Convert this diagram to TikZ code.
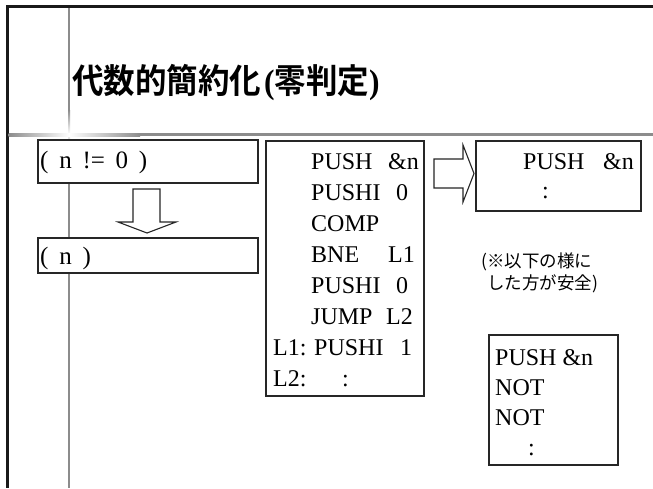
\documentclass[tikz,border=0pt]{standalone}
\usepackage{fontspec}
\setmainfont{Liberation Serif}
\newfontfamily\cjkb{Noto Sans CJK JP Bold}
\newfontfamily\cjk{Noto Sans CJK JP}
\begin{document}
\begin{tikzpicture}[x=1pt,y=-1pt,
  box/.style={draw=black!85, line width=1.3pt, inner sep=0pt, fill=white},
  txt/.style={anchor=base west, inner sep=0pt, font=\fontsize{24}{29}\selectfont},
  ltxt/.style={anchor=base west, inner sep=0pt, font=\fontsize{25}{30}\selectfont},
  note/.style={anchor=base west, inner sep=0pt, font=\cjk\fontsize{17.5}{21}\selectfont},
  blockarrow/.style={draw=black!85, line width=1.1pt, fill=white, line join=miter}]
\useasboundingbox (0,0) rectangle (653,488);
\fill[white] (0,0) rectangle (653,488);
% frame
\fill[black!90] (6,5) rectangle (653,7.5);
\fill[black!90] (6,5) rectangle (8.5,488);
% gray lines
\fill[gray!90] (68,7.5) rectangle (70.2,110);
\shade[top color=gray!90, bottom color=white] (68,110) rectangle (70.2,134);
\shade[top color=white, bottom color=gray!90] (68,134) rectangle (70.2,150);
\fill[gray!90] (68,150) rectangle (70.2,488);
\shade[left color=gray!90, right color=white] (8.5,133) rectangle (69,136);
\shade[left color=white, right color=gray!90] (69,133) rectangle (140,136);
\fill[gray!90] (140,133) rectangle (653,136);
% title
\node[anchor=base west, inner sep=0pt, yscale=1.08, transform shape] (title) at (72,93)
  {\cjkb\fontsize{31.5}{38}\selectfont 代数的簡約化\hspace{3pt}{\rmfamily\bfseries(}零判定{\rmfamily\bfseries)}};
% left boxes
\node[box, minimum width=220pt, minimum height=43pt] (b1) at (148,161.5) {};
\node[box, minimum width=220pt, minimum height=35pt] (b2) at (148,255.5) {};
\node[ltxt] (t1) at (40,168) {\spaceskip=0.43em ( n != 0 )};
\node[ltxt] (t2) at (40,264) {\spaceskip=0.43em ( n )};
% down arrow
\draw[blockarrow] (133,189) -- (160,189) -- (160,222) -- (176,222) -- (147,233)
  -- (118,222) -- (133,222) -- cycle;
% middle box
\node[box, minimum width=158pt, minimum height=255pt] (mid) at (345,268.5) {};
\node[txt] (m0a) at (311,169) {PUSH};   \node[txt] (m0b) at (388,169) {\&n};
\node[txt] (m1a) at (311,200.1) {PUSHI}; \node[txt] (m1b) at (396,200.1) {0};
\node[txt] (m2a) at (311,231.2) {COMP};
\node[txt] (m3a) at (311,262.3) {BNE};  \node[txt] (m3b) at (388,262.3) {L1};
\node[txt] (m4a) at (311,293.4) {PUSHI}; \node[txt] (m4b) at (396,293.4) {0};
\node[txt] (m5a) at (311,324.5) {JUMP}; \node[txt] (m5b) at (386,324.5) {L2};
\node[txt] (m6l) at (273,355.6) {L1:}; \node[txt] (m6a) at (314,355.6) {PUSHI}; \node[txt] (m6b) at (400,355.6) {1};
\node[txt] (m7l) at (273,386.7) {L2:}; \node[txt] (m7a) at (342,386.7) {:};
% right arrow
\draw[blockarrow] (434,159) -- (463,159) -- (463,145) -- (474,173.5) -- (463,202)
  -- (463,188) -- (434,188) -- cycle;
% top right box
\node[box, minimum width=165pt, minimum height=70pt] (tr) at (558.5,176) {};
\node[txt] (r0a) at (523,169) {PUSH}; \node[txt] (r0b) at (603,169) {\&n};
\node[txt] (r1a) at (542,198) {:};
% note
\node[note] (n1) at (481,267) {(※以下の様に};
\node[note] (n2) at (487,289) {した方が安全)};
% bottom right box
\node[box, minimum width=129pt, minimum height=130pt] (br) at (553.5,400) {};
\node[txt] (s0) at (495,365) {PUSH \&n};
\node[txt] (s1) at (495,395) {NOT};
\node[txt] (s2) at (495,425) {NOT};
\node[txt] (s3) at (528,455) {:};
\end{tikzpicture}
\end{document}
